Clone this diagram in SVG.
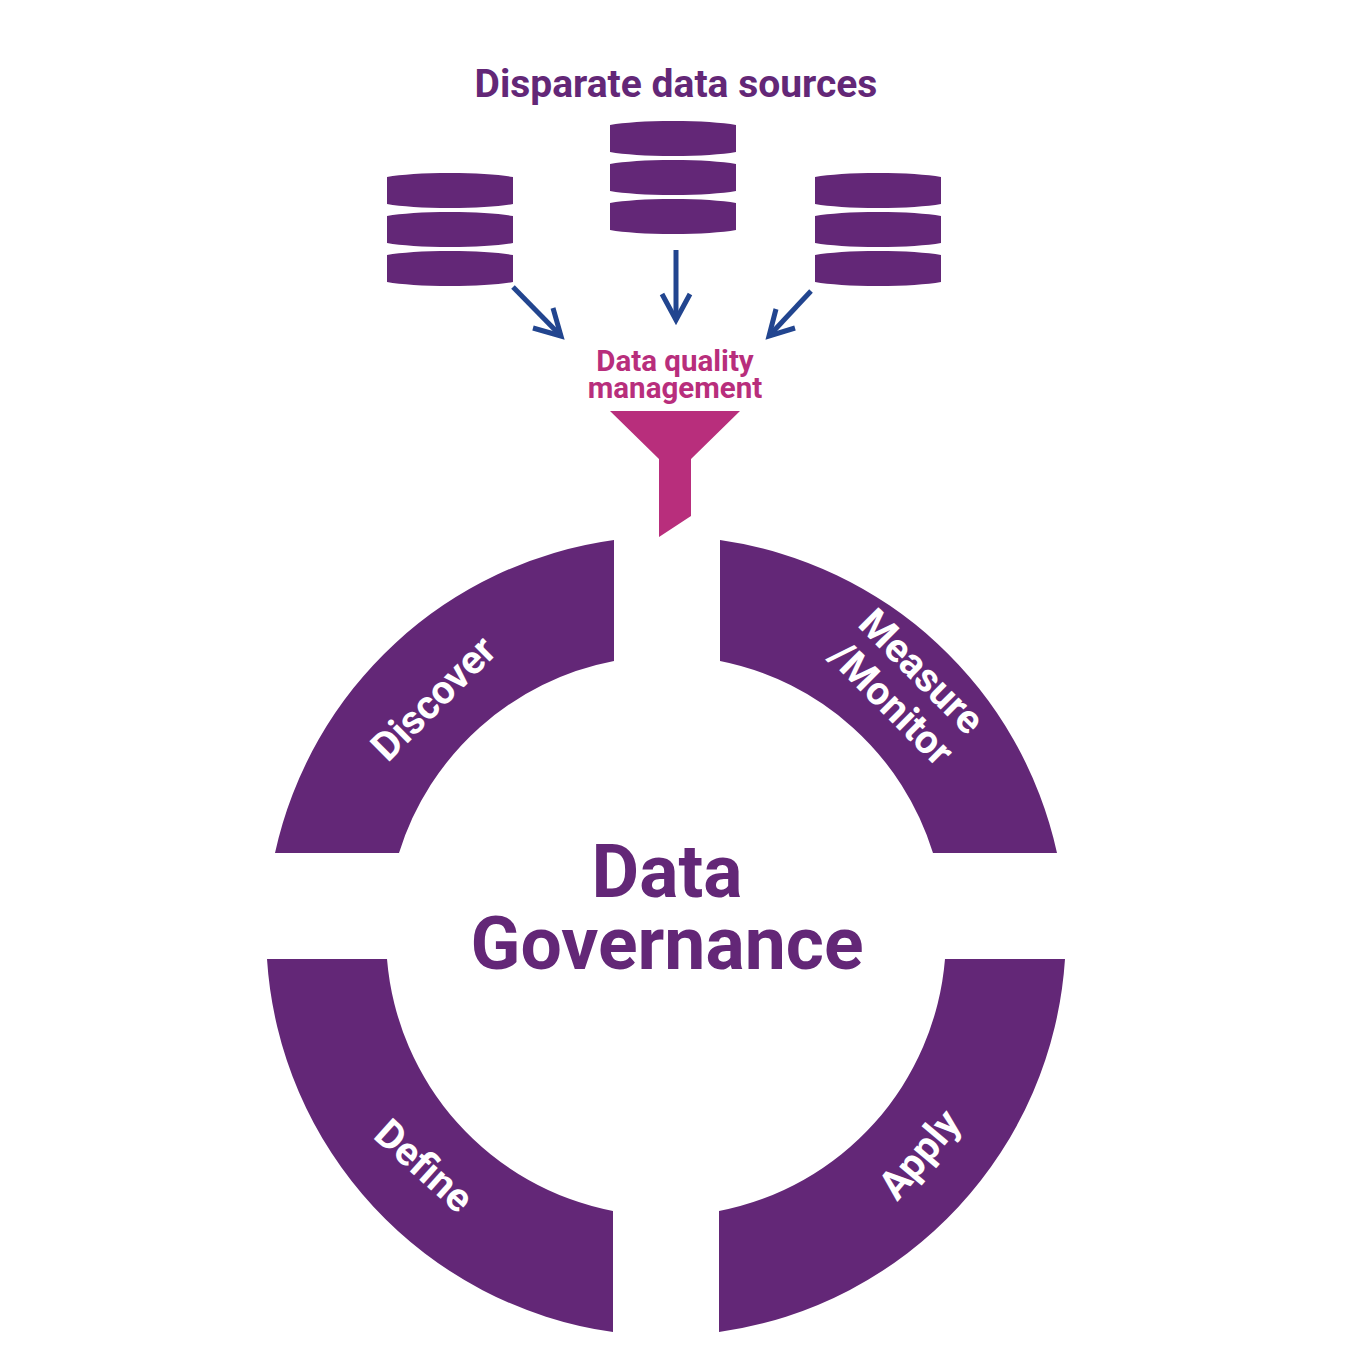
<svg xmlns="http://www.w3.org/2000/svg" width="1350" height="1364" viewBox="0 0 1350 1364">
<style>
text{font-family:Roboto,"Liberation Sans",sans-serif;font-weight:700;text-anchor:middle}
.p{fill:#632777}
.w{fill:#fff;font-size:40px}
.f{fill:#b82e7c;font-size:29.5px}
.c{stroke:#22458f;stroke-width:5;fill:none;stroke-miterlimit:10}
</style>
<defs>
<path id="disk" d="M0 4C14 1.500 36 0 63 0S112 1.500 126 4V31C112 33.500 90 35 63 35S14 33.500 0 31Z"/>
<g id="db" class="p">
<use href="#disk"/>
<use href="#disk" y="39"/>
<use href="#disk" y="78"/>
</g>
</defs>
<rect width="1350" height="1364" fill="#fff"/>
<text x="676" y="97" class="p" font-size="39">Disparate data sources</text>
<g id="db-left"><use href="#db" x="387" y="173"/></g>
<g id="db-center"><use href="#db" x="610" y="121"/></g>
<g id="db-right"><use href="#db" x="815" y="173"/></g>
<g id="connectors">
<path class="c" d="M513 287L561 336"/><path class="c" d="M553 308L561 336L533 328"/>
<path class="c" d="M676 250V320"/><path class="c" d="M662 294L676 320L690 294"/>
<path class="c" d="M811 291L769 336"/><path class="c" d="M795 328L769 336L776 309"/>
</g>
<g id="funnel">
<text x="675" y="371" class="f">Data quality</text>
<text x="675" y="398" class="f">management</text>
<path d="M610 411H740L691 459V516L659 537V459Z" fill="#b82e7c"/>
</g>
<g id="discover"><path class="p" d="M614 540A403 403 0 0 0 275 853H399A280 280 0 0 1 614 661Z"/>
<text class="w" transform="translate(443 708) rotate(-45)">Discover</text></g>
<g id="measure"><path class="p" d="M720 540A403 403 0 0 1 1057 853H933A280 280 0 0 0 720 661Z"/>
<text class="w" transform="translate(912 681) rotate(45)">Measure</text>
<text class="w" transform="translate(882 713) rotate(45)">/Monitor</text></g>
<g id="define"><path class="p" d="M267 959H387A280 280 0 0 0 613 1211V1332A403 403 0 0 1 267 959Z"/>
<text class="w" transform="translate(415 1176) rotate(42)">Define</text></g>
<g id="apply"><path class="p" d="M1065 959H945A280 280 0 0 1 719 1211V1332A403 403 0 0 0 1065 959Z"/>
<text class="w" transform="translate(930 1163) rotate(-50)">Apply</text></g>
<g id="center">
<text x="667" y="897" class="p" font-size="73.3">Data</text>
<text x="667" y="969" class="p" font-size="73.3">Governance</text>
</g>
</svg>
